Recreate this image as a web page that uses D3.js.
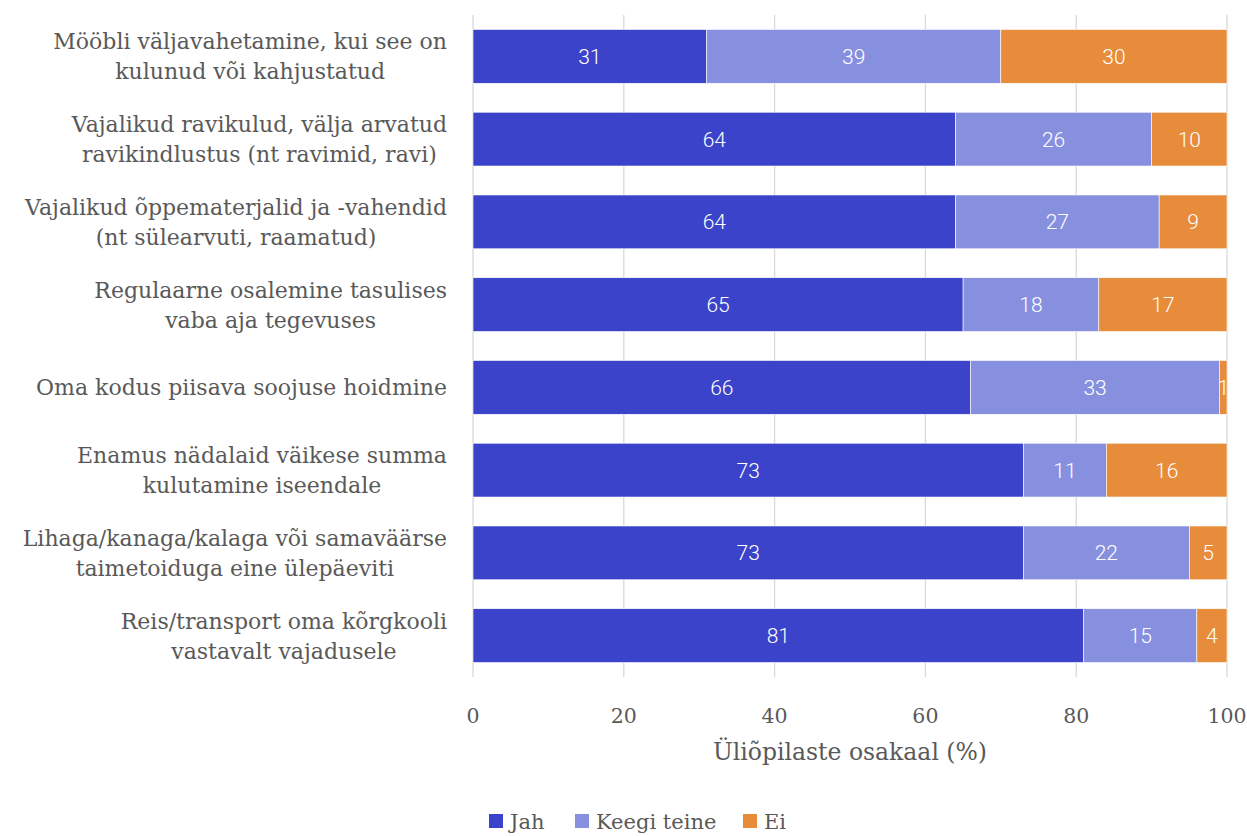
<!DOCTYPE html>
<html>
<head>
<meta charset="utf-8">
<script src="https://cdn.jsdelivr.net/npm/d3@7"></script>
<style>
  body { margin: 0; background: #fff; }
  text { fill: #595959; }
</style>
</head>
<body>
<div id="chart"></div>
<script>
// data
var categories = [
    ["Mööbli väljavahetamine, kui see on", "kulunud või kahjustatud"],
    ["Vajalikud ravikulud, välja arvatud", "ravikindlustus (nt ravimid, ravi)"],
    ["Vajalikud õppematerjalid ja -vahendid", "(nt sülearvuti, raamatud)"],
    ["Regulaarne osalemine tasulises ", "vaba aja tegevuses"],
    ["Oma kodus piisava soojuse hoidmine"],
    ["Enamus nädalaid väikese summa", "kulutamine iseendale"],
    ["Lihaga/kanaga/kalaga või samaväärse", "taimetoiduga eine ülepäeviti"],
    ["Reis/transport oma kõrgkooli", "vastavalt vajadusele"]
];
var jah = [31, 64, 64, 65, 66, 73, 73, 81];
var keegi = [39, 26, 27, 18, 33, 11, 22, 15];
var ei = [30, 10, 9, 17, 1, 16, 5, 4];
var seriesNames = ["Jah", "Keegi teine", "Ei"];
var colors = ["#3A43C9", "#878FDF", "#E78C3A"];
var xTicks = [0, 20, 40, 60, 80, 100];

var width = 1247, height = 836;
var margin = {top: 15, left: 473, right: 20, bottom: 159};
var serif = "'Roboto Slab', 'DejaVu Serif', serif";

var svg = d3.select("#chart").append("svg")
    .attr("width", width)
    .attr("height", height);

var x = d3.scaleLinear()
    .domain([0, 100])
    .range([margin.left, 1227]);

var y = d3.scaleBand()
    .domain(d3.range(categories.length))
    .range([margin.top, height - margin.bottom])
    .paddingInner(0.35)
    .paddingOuter(0.175);

// grid
svg.append("g")
    .selectAll("line")
    .data(xTicks)
    .enter().append("line")
    .attr("x1", d => x(d)).attr("x2", d => x(d))
    .attr("y1", margin.top).attr("y2", height - margin.bottom)
    .attr("stroke", "#d9d9d9")
    .attr("stroke-width", 1.3);

// stacked data
var rows = categories.map((c, i) => ({i: i, vals: [jah[i], keegi[i], ei[i]]}));
var stack = d3.stack().keys([0, 1, 2]).value((d, k) => d.vals[k]);
var layers = stack(rows);

var gl = svg.append("g").selectAll("g")
    .data(layers)
    .enter().append("g")
    .attr("fill", (d, i) => colors[i]);

gl.selectAll("rect")
    .data(d => d)
    .enter().append("rect")
    .attr("x", d => x(d[0]))
    .attr("width", d => x(d[1]) - x(d[0]))
    .attr("y", d => y(d.data.i))
    .attr("height", y.bandwidth())
    .attr("stroke", "#fff")
    .attr("stroke-width", 0.6);

gl.selectAll("text")
    .data(d => d)
    .enter().append("text")
    .attr("x", d => (x(d[0]) + x(d[1])) / 2)
    .attr("y", d => y(d.data.i) + y.bandwidth() / 2)
    .attr("dy", "0.36em")
    .attr("text-anchor", "middle")
    .style("fill", "#fff")
    .style("font-family", "Roboto, sans-serif")
    .style("font-weight", 300)
    .style("font-size", "21px")
    .text(d => d[1] - d[0]);

// category labels: block right aligned, lines centered inside it
var labelRight = 447;
var lineH = 30;
categories.forEach(function (lines, i) {
    var g = svg.append("g");
    var texts = g.selectAll("text")
        .data(lines)
        .enter().append("text")
        .style("font-family", serif)
        .style("font-size", "22px")
        .attr("text-anchor", "middle")
        .text(d => d);
    var w = d3.max(texts.nodes(), n => n.getComputedTextLength());
    var cy = y(i) + y.bandwidth() / 2;
    texts.attr("x", labelRight - w / 2)
        .attr("y", (d, j) => cy + (j - (lines.length - 1) / 2) * lineH)
        .attr("dy", "0.36em");
});

// x axis labels
svg.append("g")
    .selectAll("text")
    .data(xTicks)
    .enter().append("text")
    .attr("x", d => x(d))
    .attr("y", 716)
    .attr("dy", "0.36em")
    .attr("text-anchor", "middle")
    .style("font-family", serif)
    .style("font-size", "20.5px")
    .text(d => d);

svg.append("text")
    .attr("x", x(50))
    .attr("y", 752)
    .attr("dy", "0.36em")
    .attr("text-anchor", "middle")
    .style("font-family", serif)
    .style("font-size", "23.5px")
    .text("Üliõpilaste osakaal (%)");

// legend
var legendX = [489, 575, 743];
var lg = svg.append("g").selectAll("g")
    .data(seriesNames)
    .enter().append("g")
    .attr("transform", (d, i) => "translate(" + legendX[i] + ",814)");
lg.append("rect")
    .attr("width", 14).attr("height", 14)
    .attr("fill", (d, i) => colors[i]);
lg.append("text")
    .attr("x", 21)
    .attr("y", 7)
    .attr("dy", "0.36em")
    .style("font-family", serif)
    .style("font-size", "21px")
    .text(d => d);
</script>
</body>
</html>
